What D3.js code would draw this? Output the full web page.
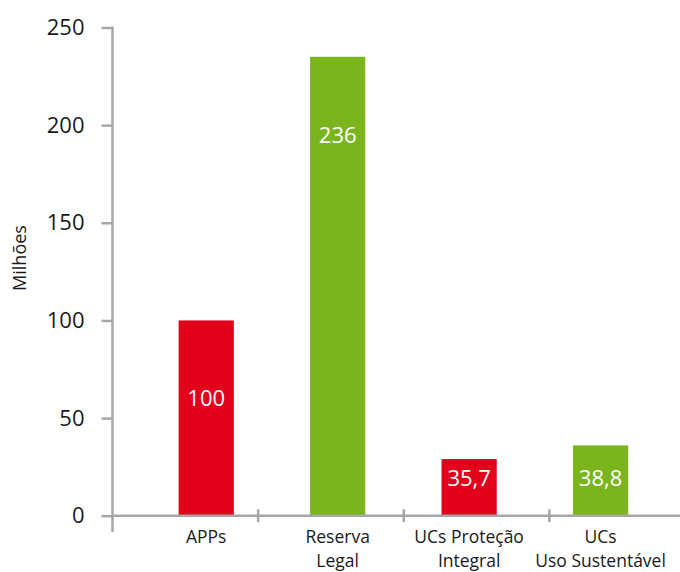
<!DOCTYPE html>
<html>
<head>
<meta charset="utf-8">
<script src="https://cdn.jsdelivr.net/npm/d3@7"></script>
<style>
  body { margin: 0; background: #fff; }
  svg text { font-family: "Open Sans", "Noto Sans", sans-serif; }
</style>
</head>
<body>
<div id="chart"></div>
<script>
// chart data
var categories = ["APPs", "Reserva Legal", "UCs Proteção Integral", "UCs Uso Sustentável"];
var categoryLines = [["APPs"], ["Reserva", "Legal"], ["UCs Proteção", "Integral"], ["UCs", "Uso Sustentável"]];
var barValues = [100, 235, 29, 36];
var valueLabels = ["100", "236", "35,7", "38,8"];
var barGroup = ["vermelho", "verde", "vermelho", "verde"];
var yTicks = [0, 50, 100, 150, 200, 250];

var svgWidth = 680;
var svgHeight = 572;

var svg = d3.select("#chart")
  .append("svg")
  .attr("width", svgWidth)
  .attr("height", svgHeight);

var axisGray = "#a6a6a6";

// scales
var yScale = d3.scaleLinear()
  .domain([0, 250])
  .range([515.7, 27.5]);

// band scale for the axis ticks (category boundaries)
var xAxisScale = d3.scaleBand()
  .domain(categories)
  .range([112.5, 695]);

// band scale for bars and labels
var xBar = d3.scaleBand()
  .domain(categories)
  .range([140.5, 666.3])
  .paddingInner(0.58)
  .paddingOuter(0.29);

var color = d3.scaleOrdinal()
  .domain(["vermelho", "verde"])
  .range(["#e2001a", "#7ab51d"]);

var data = categories.map(function(c, i) {
  return { cat: c, value: barValues[i], label: valueLabels[i], group: barGroup[i], lines: categoryLines[i] };
});

// bars
svg.selectAll("rect.bar")
  .data(data)
  .enter()
  .append("rect")
  .attr("class", "bar")
  .attr("x", d => xBar(d.cat))
  .attr("width", xBar.bandwidth())
  .attr("y", d => yScale(d.value))
  .attr("height", d => yScale(0) - yScale(d.value))
  .style("fill", d => color(d.group));

// y axis
var leftAxis = d3.axisLeft(yScale)
  .tickValues(yTicks)
  .tickSize(11)
  .tickPadding(17);

var yAxisG = svg.append("g")
  .attr("transform", "translate(112.5, 0)")
  .call(leftAxis);

yAxisG.select(".domain").remove();
yAxisG.selectAll(".tick line")
  .attr("stroke", axisGray)
  .attr("stroke-width", 2.5);
yAxisG.selectAll(".tick text")
  .attr("font-size", 22)
  .attr("fill", "#1a1a1a");

svg.append("line")
  .attr("x1", 112.5).attr("x2", 112.5)
  .attr("y1", yScale(250) - 1).attr("y2", 532)
  .attr("stroke", axisGray)
  .attr("stroke-width", 2.5);

// x axis
svg.append("line")
  .attr("x1", 112.5).attr("x2", 680)
  .attr("y1", yScale(0)).attr("y2", yScale(0))
  .attr("stroke", axisGray)
  .attr("stroke-width", 2.5);

svg.selectAll("line.xtick")
  .data(categories.slice(1))
  .enter()
  .append("line")
  .attr("class", "xtick")
  .attr("x1", d => xAxisScale(d)).attr("x2", d => xAxisScale(d))
  .attr("y1", yScale(0) - 6.5).attr("y2", yScale(0) + 6.5)
  .attr("stroke", axisGray)
  .attr("stroke-width", 2.5);

// category labels
var catText = svg.selectAll("text.cat")
  .data(data)
  .enter()
  .append("text")
  .attr("class", "cat")
  .attr("text-anchor", "middle")
  .attr("font-size", 17.5)
  .attr("fill", "#1a1a1a");

catText.selectAll("tspan")
  .data(d => d.lines.map(l => ({ text: l, x: xBar(d.cat) + xBar.bandwidth() / 2 })))
  .enter()
  .append("tspan")
  .attr("x", t => t.x)
  .attr("y", (t, i) => 543 + i * 24)
  .text(t => t.text);

// value labels inside bars
svg.selectAll("text.val")
  .data(data)
  .enter()
  .append("text")
  .attr("class", "val")
  .attr("text-anchor", "middle")
  .attr("font-size", 22)
  .attr("fill", "#fff")
  .attr("x", d => xBar(d.cat) + xBar.bandwidth() / 2)
  .attr("y", d => Math.min(yScale(d.value) + 86, yScale(0) - 30))
  .text(d => d.label);

// y axis title
svg.append("text")
  .attr("transform", "translate(26, 258) rotate(-90)")
  .attr("text-anchor", "middle")
  .attr("font-size", 18)
  .attr("fill", "#1a1a1a")
  .text("Milhões");
</script>
</body>
</html>
